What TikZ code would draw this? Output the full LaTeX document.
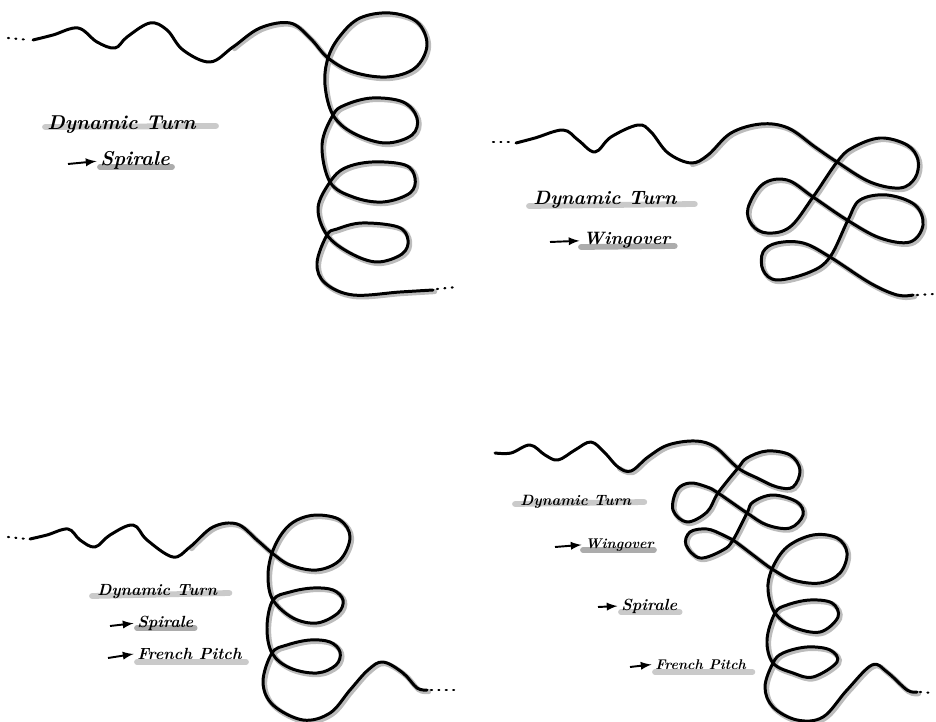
\documentclass[tikz,border=0pt]{standalone}
\usetikzlibrary{arrows.meta}
\usetikzlibrary{calc}
\usetikzlibrary{backgrounds}
\tikzset{>=latex}
\definecolor{trailgrey}{RGB}{188,188,188}
\definecolor{barlight}{RGB}{202,202,202}
\definecolor{bardark}{RGB}{172,172,172}
\tikzstyle{trail}=[draw=black,line width=1.7pt,line cap=round,line join=round]
\tikzstyle{trailshade}=[draw=trailgrey,line width=2.9pt,line cap=round,shift={(1.6,1.6)}]
\tikzstyle{fade}=[draw=black,line width=1.2pt,line cap=round,dash pattern=on 0.6pt off 3.6pt]
\tikzstyle{hilite}=[draw=barlight,line width=3.3pt,line cap=round]
\tikzstyle{hilitedark}=[draw=bardark,line width=3.3pt,line cap=round]
\tikzstyle{pointer}=[->,line width=1.1pt,shorten >=2pt]
\tikzstyle{note}=[anchor=base west,inner sep=0pt]
\tikzstyle{bignote}=[note,font=\bfseries\itshape\fontsize{11.4}{14}\selectfont]
\tikzstyle{smallnote}=[note,font=\bfseries\itshape\fontsize{9.2}{11}\selectfont]
% lead-in without shadow, then the shaded part of the figure
\newcommand{\flight}[2]{%
  \draw[trailshade] plot[smooth,tension=.6] coordinates {#2};
  \draw[trail] plot[smooth,tension=.6] coordinates {#1 #2};}

\begin{document}
\begin{tikzpicture}[x=0.02cm,y=-0.02cm]
  \useasboundingbox (0,0) rectangle (936,722);

  % top left: spirale
  \coordinate (in1) at (8,38);
  \coordinate (st1) at (30,40);
  \coordinate (en1) at (437,289);
  \coordinate (out1) at (457,287);
  \draw[fade] (in1) -- (st1);
  \flight{(33,40) (53,35) (78,28) (97,42) (115,48) (127,37) (150,23) (167,30) (183,50) (210,62)}
    {(233,47) (260,28) (290,23) (310,38) (328,58) (353,72) (387,77) (415,68) (427,45) (417,22) (390,13) (360,18) (340,36) (328,58) (325,85) (333,115) (353,133) (385,143) (412,135) (417,118) (403,102) (372,98) (345,105) (333,115) (322,145) (330,182) (353,197) (383,202) (410,193) (415,178) (405,165) (372,162) (345,168) (330,182) (318,208) (327,235) (350,253) (377,262) (402,254) (408,240) (398,227) (362,223) (337,229) (327,235) (317,263) (325,283) (353,295) (400,292) (433,290)}
  \draw[fade] (en1) -- (out1);

  \node[bignote] (dt1) at (47,130) {Dynamic Turn};
  \node[bignote] (sp1) at (100,166) {Spirale};
  \coordinate (ar1) at (68,164);
  \draw[pointer] (ar1) -- (sp1.west);

  % top right: wingover
  \coordinate (in2) at (493,142);
  \coordinate (st2) at (513,142);
  \coordinate (en2) at (917,295);
  \coordinate (out2) at (934,294);
  \draw[fade] (in2) -- (st2);
  \flight{(516,143) (535,138) (563,130) (578,140) (595,152) (611,137) (638,125) (651,132) (668,153)}
    {(691,163) (708,155) (731,133) (761,124) (788,128) (815,147) (837,162) (870,182) (900,188) (915,178) (918,160) (907,145) (880,138) (852,148) (837,162) (813,197) (790,227) (767,233) (752,225) (748,208) (763,184) (787,180) (813,197) (847,220) (880,238) (910,242) (923,225) (915,205) (887,195) (860,200) (848,220) (830,257) (810,272) (777,280) (763,270) (763,252) (777,243) (803,243) (830,257) (870,283) (897,295) (913,295)}
  \draw[fade] (en2) -- (out2);

  \node[bignote,font=\bfseries\itshape\fontsize{11}{14}\selectfont] (dt2) at (533,205) {Dynamic Turn};
  \node[bignote,font=\bfseries\itshape\fontsize{10.2}{13}\selectfont] (wg2) at (583,245) {Wingover};
  \coordinate (ar2) at (550,242);
  \draw[pointer] (ar2) -- (wg2.west);

  % bottom left: spirale + french pitch
  \coordinate (in3) at (8,537);
  \coordinate (st3) at (27,539);
  \coordinate (en3) at (431,690);
  \coordinate (out3) at (457,690);
  \draw[fade] (in3) -- (st3);
  \flight{(30,539) (47,535) (68,529) (80,540) (95,547) (110,535) (133,525) (147,540) (173,557)}
    {(190,547) (213,527) (237,524) (257,540) (272,553) (290,565) (317,570) (340,560) (350,537) (340,520) (317,515) (297,520) (283,532) (272,553) (268,577) (273,600) (293,618) (317,623) (338,613) (343,600) (333,590) (313,588) (290,592) (273,600) (267,627) (272,653) (290,668) (317,673) (336,665) (340,652) (330,642) (310,640) (287,645) (272,653) (263,682) (273,705) (303,720) (330,713) (350,690) (368,670) (383,662) (403,673) (417,688) (427,690)}
  \draw[fade] (en3) -- (out3);

  \node[smallnote] (dt3) at (97,595) {Dynamic Turn};
  \node[smallnote] (sp3) at (137,627) {Spirale};
  \node[smallnote] (fp3) at (137,659) {French Pitch};
  \coordinate (ar3) at (110,626);
  \coordinate (ar4) at (108,658);
  \draw[pointer] (ar3) -- (sp3.west);
  \draw[pointer] (ar4) -- (fp3.west);

  % bottom right: wingover + spirale + french pitch
  \coordinate (en4) at (920,692);
  \coordinate (out4) at (933,693);
  \flight{(495,453) (511,453) (530,445) (545,455) (558,460) (575,450) (591,442) (605,453)}
    {(618,467) (631,471) (648,457) (668,445) (695,441) (715,447) (738,468) (757,478) (777,487) (793,487) (800,470) (790,455) (767,451) (747,458) (738,468) (718,493) (707,512) (687,522) (673,510) (677,490) (690,483) (707,487) (718,493) (747,513) (767,525) (790,528) (803,515) (797,502) (773,495) (753,502) (747,513) (733,540) (723,550) (700,558) (686,545) (690,532) (707,529) (723,535) (733,540) (753,555) (772,569) (793,580) (820,583) (840,573) (847,553) (837,538) (813,535) (787,547) (772,569) (768,590) (775,613) (793,627) (820,632) (838,617) (832,603) (810,600) (787,605) (775,613) (767,640) (773,663) (793,673) (813,677) (837,662) (830,650) (807,647) (783,653) (773,663) (765,687) (773,707) (797,720) (823,717) (847,690) (872,665) (887,672) (907,690) (917,692)}
  \draw[fade] (en4) -- (out4);

  \node[smallnote,font=\bfseries\itshape\fontsize{8.5}{11}\selectfont] (dt4) at (520,505) {Dynamic Turn};
  \node[smallnote,font=\bfseries\itshape\fontsize{8}{10}\selectfont] (wg4) at (585,548) {Wingover};
  \node[smallnote] (sp4) at (621,610) {Spirale};
  \node[smallnote,font=\bfseries\itshape\fontsize{8}{10}\selectfont] (fp4) at (655,669) {French Pitch};
  \coordinate (ar5) at (555,547);
  \coordinate (ar6) at (598,607);
  \coordinate (ar7) at (630,667);
  \draw[pointer] (ar5) -- (wg4.west);
  \draw[pointer] (ar6) -- (sp4.west);
  \draw[pointer] (ar7) -- (fp4.west);

  % marker bars under the notes
  \begin{scope}[on background layer]
    \draw[hilite] ($(dt1.base west)+(-2,-3)$) -- ($(dt1.base east)+(20,-4)$);
    \draw[hilitedark] ($(sp1.base west)+(0,1)$) -- ($(sp1.base east)+(2,1)$);
    \draw[hilite] ($(dt2.base west)+(-4,1)$) -- ($(dt2.base east)+(18,-1)$);
    \draw[hilitedark] ($(wg2.base west)+(-2,2)$) -- ($(wg2.base east)+(4,1)$);
    \draw[hilite] ($(dt3.base west)+(-5,1)$) -- ($(dt3.base east)+(12,-2)$);
    \draw[hilitedark] ($(sp3.base west)+(0,1)$) -- ($(sp3.base east)+(1,1)$);
    \draw[hilite] ($(fp3.base west)+(0,3)$) -- ($(fp3.base east)+(4,3)$);
    \draw[hilite] ($(dt4.base west)+(-5,-1)$) -- ($(dt4.base east)+(13,-3)$);
    \draw[hilitedark] ($(wg4.base west)+(-2,2)$) -- ($(wg4.base east)+(0,2)$);
    \draw[hilite] ($(sp4.base west)+(0,2)$) -- ($(sp4.base east)+(2,2)$);
    \draw[hilite] ($(fp4.base west)+(0,3)$) -- ($(fp4.base east)+(6,3)$);
  \end{scope}
\end{tikzpicture}
\end{document}
